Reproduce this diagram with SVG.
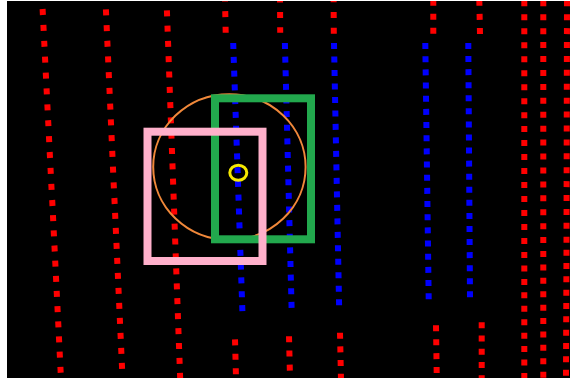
<svg xmlns="http://www.w3.org/2000/svg" width="570" height="383" viewBox="0 0 570 383">
<defs>
<clipPath id="plot"><rect x="7" y="1" width="563" height="377"/></clipPath>
<style>
.r{stroke:#ff0000;stroke-width:6;fill:none}
.b{stroke:#0000ff;stroke-width:6;fill:none}
</style>
</defs>
<rect width="570" height="383" fill="#ffffff"/>
<rect x="7" y="1" width="563" height="377" fill="#000000"/>
<g clip-path="url(#plot)">
<g id="red-points">
<line class="r" x1="42.6" y1="9" x2="51.6" y2="190" stroke-dasharray="6 9.91"/>
<line class="r" x1="52.2" y1="200" x2="60.7" y2="373" stroke-dasharray="6 9.18"/>
<line class="r" x1="105.9" y1="9.3" x2="113.9" y2="188.4" stroke-dasharray="6 9.74"/>
<line class="r" x1="114.4" y1="198" x2="122.1" y2="369" stroke-dasharray="6 9"/>
<line class="r" x1="166.9" y1="10.3" x2="173.2" y2="184.7" stroke-dasharray="6 9.31"/>
<line class="r" x1="173.5" y1="193.7" x2="180.2" y2="379" stroke-dasharray="6 8.94"/>
<line class="r" x1="524.3" y1="0.3" x2="524.3" y2="244" stroke-dasharray="6 7.98"/>
<line class="r" x1="524.3" y1="252" x2="524.3" y2="379" stroke-dasharray="6 7.44"/>
<line class="r" x1="543.3" y1="0.3" x2="543.3" y2="243.1" stroke-dasharray="6 7.93"/>
<line class="r" x1="543.3" y1="251" x2="543.3" y2="377.7" stroke-dasharray="6 7.41"/>
<line class="r" x1="567" y1="0.3" x2="566.5" y2="242.7" stroke-dasharray="6 7.91"/>
<line class="r" x1="566.5" y1="249.7" x2="566" y2="375.7" stroke-dasharray="6 7.33"/>
<line class="r" x1="224.9" y1="-4.5" x2="225.7" y2="32.7" stroke-dasharray="6 9.6"/>
<line class="r" x1="235" y1="339.3" x2="236.3" y2="388.8" stroke-dasharray="6 8.5"/>
<line class="r" x1="280" y1="-3.4" x2="280.2" y2="32.7" stroke-dasharray="6 9.35"/>
<line class="r" x1="289" y1="336.3" x2="290.2" y2="385" stroke-dasharray="6 8.2"/>
<line class="r" x1="333.6" y1="-3.7" x2="333.8" y2="33.7" stroke-dasharray="6 9.7"/>
<line class="r" x1="340" y1="332.7" x2="341" y2="379.7" stroke-dasharray="6 7.67"/>
<line class="r" x1="433.3" y1="-0.3" x2="433.3" y2="33.7" stroke-dasharray="6 8"/>
<line class="r" x1="436" y1="325.3" x2="436.7" y2="373" stroke-dasharray="6 7.9"/>
<line class="r" x1="479.3" y1="-0.3" x2="480" y2="34" stroke-dasharray="6 8.15"/>
<line class="r" x1="481.7" y1="322.3" x2="481.7" y2="381.3" stroke-dasharray="6 7.25"/>
</g>
<g id="blue-points">
<line class="b" x1="233.2" y1="43" x2="242.4" y2="311.2" stroke-dasharray="6 7.8"/>
<line class="b" x1="284.9" y1="43" x2="291.6" y2="308" stroke-dasharray="6 7.63"/>
<line class="b" x1="334" y1="43" x2="339.1" y2="305.3" stroke-dasharray="6 7.49"/>
<line class="b" x1="425.3" y1="43" x2="428.7" y2="299.3" stroke-dasharray="6 7.17"/>
<line class="b" x1="468.3" y1="43" x2="470" y2="297.3" stroke-dasharray="6 7.07"/>
</g>
<g id="orange-circle"><ellipse cx="229.4" cy="167" rx="76.2" ry="72.8" fill="none" stroke="#f0883a" stroke-width="2"/></g>
<g id="green-box"><rect x="215" y="98.3" width="96" height="141" fill="none" stroke="#22a84d" stroke-width="8"/></g>
<g id="pink-box"><rect x="147.5" y="131.7" width="115" height="129.3" fill="none" stroke="#ffb0cb" stroke-width="8"/></g>
<g id="yellow-circle"><ellipse cx="238.3" cy="172.7" rx="8.5" ry="7.5" fill="none" stroke="#f5e800" stroke-width="3"/></g>
</g>
</svg>
